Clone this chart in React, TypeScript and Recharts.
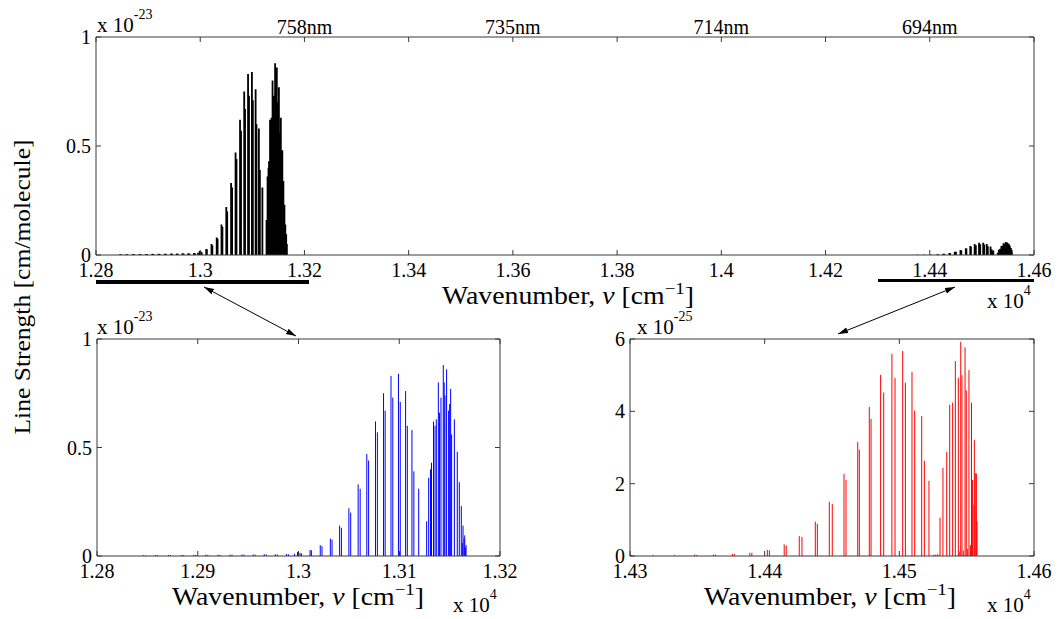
import { LineChart, Line, XAxis, YAxis } from 'recharts'

// O2 A-band, line positions (cm^-1) and strengths (x 1e-23 cm/molecule)
const A_NU = [
  12846, 12848, 12858, 12860, 12871, 12873, 12884, 12886, 12896, 12898,
  12908, 12910, 12920, 12922, 12932, 12934, 12944, 12946, 12955, 12957,
  12966, 12968, 12977, 12979, 12988, 12990, 12996, 12999, 13001.5, 13003,
  13011.5, 13012.8, 13021.6, 13023.3, 13031.6, 13033.3, 13040.8, 13042.6,
  13050, 13051.8, 13059.2, 13061.2, 13067.8, 13069.6, 13076.4, 13078.3,
  13084.4, 13086, 13091.8, 13093.6, 13099.2, 13100.3, 13101, 13106.3, 13108,
  13112.6, 13114.5, 13119.3,
  13127.2, 13129.2, 13131, 13132, 13134, 13135.5, 13136.8, 13138.8, 13140,
  13141.4, 13143.7, 13144.6, 13145.4, 13147, 13149, 13150, 13151, 13152,
  13154.7, 13157.6, 13159.6, 13161.6, 13162.6, 13163.3, 13164.3, 13165,
  13165.6, 13166.3,
]
const A_S = [
  0.004, 0.003, 0.004, 0.004, 0.005, 0.004, 0.005, 0.004, 0.005, 0.005,
  0.006, 0.005, 0.006, 0.005, 0.006, 0.006, 0.007, 0.006, 0.007, 0.006,
  0.008, 0.007, 0.008, 0.007, 0.009, 0.008, 0.01, 0.018, 0.015, 0.012,
  0.028, 0.026, 0.05, 0.045, 0.08, 0.075, 0.14, 0.13,
  0.22, 0.2, 0.33, 0.31, 0.47, 0.44, 0.62, 0.57,
  0.75, 0.67, 0.83, 0.73, 0.84, 0.02, 0.71, 0.76, 0.6,
  0.58, 0.39, 0.31,
  0.16, 0.36, 0.4, 0.43, 0.62, 0.6, 0.63, 0.8, 0.66,
  0.73, 0.88, 0.8, 0.74, 0.86, 0.67, 0.7, 0.77, 0.56,
  0.63, 0.48, 0.34, 0.23, 0.06, 0.14, 0.08, 0.095,
  0.04, 0.05,
]

// O2 B-band, line positions (cm^-1) and strengths (x 1e-25 cm/molecule)
const B_NU = [
  14301, 14317, 14333, 14348, 14349.5, 14362, 14363.5, 14376, 14377.5,
  14389, 14390.5, 14402, 14403.5, 14414.5, 14416,
  14425.7, 14427.7, 14437.6, 14439.1, 14448, 14450.2, 14458.9, 14460.4,
  14469.1, 14470.3, 14477.7, 14479, 14486.1, 14488.4, 14494.5, 14496.8,
  14502.5, 14504.5, 14509.4, 14511.4, 14516.6, 14518.6, 14522,
  14525.5, 14527, 14528.5,
  14530.2, 14532.4, 14535.2, 14537.4, 14539.6, 14541.6, 14543.8, 14544.5,
  14545.6, 14546.5, 14547.5, 14548.8, 14549.7, 14550.5, 14551.7, 14552.8,
  14553.6, 14554.4, 14555.4, 14555.7, 14556.7, 14557.2, 14557.7,
]
const B_S = [
  0.03, 0.03, 0.03, 0.04, 0.03, 0.04, 0.04, 0.06, 0.06,
  0.09, 0.09, 0.17, 0.16, 0.32, 0.29,
  0.55, 0.53, 0.95, 0.89, 1.5, 1.44, 2.27, 2.1,
  3.15, 2.94, 4.12, 3.79, 5.01, 4.52, 5.59, 4.92,
  5.67, 4.79, 5.09, 4.02, 3.87, 2.63, 2.08,
  0.03, 0.04, 0.05,
  1.06, 2.44, 2.88, 4.18, 4.24, 5.39, 4.93, 0.12,
  5.92, 5.0, 0.15, 5.77, 4.58, 0.2, 5.14, 0.3,
  4.24, 2.1, 1.42, 3.21, 2.29, 2.28, 0.95,
]

const TOP_X_TICKS = [12800, 13000, 13200, 13400, 13600, 13800, 14000, 14200, 14400, 14600]
const NM_TICKS = [13200, 13600, 14000, 14400]
const NM_LABELS = ['758nm', '735nm', '714nm', '694nm']
const LEFT_X_TICKS = [12800, 12900, 13000, 13100, 13200]
const RIGHT_X_TICKS = [14300, 14400, 14500, 14600]
const UNIT_Y_TICKS = [0, 0.5, 1]
const RIGHT_Y_TICKS = [0, 2, 4, 6]

const AXIS = '#3a3a3a'
const FONT = 'Liberation Serif, DejaVu Serif, serif'
const tickStyle = { fill: '#000', fontSize: 20, fontFamily: FONT }

type Pt = { x: number; y: number | null }

// each line becomes a vertical segment: (x,0) -> (x,s), then a gap
function sticks(nu: number[], s: number[], k = 1): Pt[] {
  const out: Pt[] = []
  nu.forEach((x, i) => {
    out.push({ x, y: 0 }, { x, y: s[i] * k }, { x, y: null })
  })
  return out
}

const fmtX = (v: number) => String(Number((v / 1e4).toFixed(4)))
const fmtY = (v: number) => String(v)
const blank = () => ''

function Panel({
  data,
  color,
  width,
  height,
  margin,
  xDomain,
  xTicks,
  yDomain,
  yTicks,
  strokeWidth,
  topFormatter,
}: {
  data: Pt[]
  color: string
  width: number
  height: number
  margin: { top: number; right: number; bottom: number; left: number }
  xDomain: [number, number]
  xTicks: number[]
  yDomain: [number, number]
  yTicks: number[]
  strokeWidth: number
  topFormatter?: (v: number) => string
}) {
  return (
    <LineChart width={width} height={height} data={data} margin={margin}>
      <XAxis
        xAxisId="b"
        dataKey="x"
        type="number"
        domain={xDomain}
        ticks={xTicks}
        interval={0}
        allowDataOverflow
        tickFormatter={fmtX}
        tickSize={-5}
        tickMargin={13}
        height={30}
        stroke={AXIS}
        tick={tickStyle}
      />
      <XAxis
        xAxisId="t"
        orientation="top"
        dataKey="x"
        type="number"
        domain={xDomain}
        ticks={xTicks}
        interval={0}
        allowDataOverflow
        tickFormatter={topFormatter ?? blank}
        tickSize={-5}
        tickMargin={8}
        height={20}
        stroke={AXIS}
        tick={tickStyle}
      />
      <YAxis
        yAxisId="l"
        type="number"
        domain={yDomain}
        ticks={yTicks}
        interval={0}
        allowDataOverflow
        tickFormatter={fmtY}
        tickSize={-5}
        tickMargin={10}
        width={60}
        stroke={AXIS}
        tick={tickStyle}
      />
      <YAxis
        yAxisId="r"
        orientation="right"
        type="number"
        domain={yDomain}
        ticks={yTicks}
        interval={0}
        allowDataOverflow
        tickFormatter={blank}
        tickSize={-5}
        width={1}
        stroke={AXIS}
        tick={tickStyle}
      />
      <Line
        xAxisId="b"
        yAxisId="l"
        dataKey="y"
        stroke={color}
        strokeWidth={strokeWidth}
        dot={false}
        connectNulls={false}
        isAnimationActive={false}
      />
    </LineChart>
  )
}

function Times10({ x, y, exp }: { x: number; y: number; exp: string }) {
  return (
    <text x={x} y={y} fontSize={21} fill="#000" fontFamily={FONT}>
      x 10
      <tspan dy={-13} fontSize={14}>
        {exp}
      </tspan>
    </text>
  )
}

function WaveLabel({ cx, y }: { cx: number; y: number }) {
  return (
    <text
      x={cx}
      y={y}
      textAnchor="middle"
      fontSize={25}
      fill="#000"
      fontFamily={FONT}
      textLength={252}
      lengthAdjust="spacingAndGlyphs"
    >
      Wavenumber, <tspan fontStyle="italic">ν</tspan> [cm
      <tspan dy={-10} fontSize={17}>
        −1
      </tspan>
      <tspan dy={10}>]</tspan>
    </text>
  )
}

const topData = [...sticks(A_NU, A_S), ...sticks(B_NU, B_S, 0.01)]
const leftData = sticks(A_NU, A_S)
const rightData = sticks(B_NU, B_S)

const nmFormatter = (v: number) => {
  const i = NM_TICKS.indexOf(v)
  return i >= 0 ? NM_LABELS[i] : ''
}

export default function App() {
  return (
    <div
      style={{
        position: 'absolute',
        left: 0,
        top: 0,
        width: 1058,
        height: 619,
        background: '#fff',
        overflow: 'hidden',
        fontFamily: FONT,
      }}
    >
      <div style={{ position: 'absolute', left: 0, top: 0 }}>
        <Panel
          data={topData}
          color="#000"
          width={1058}
          height={300}
          margin={{ top: 17, right: 23, bottom: 15, left: 36 }}
          xDomain={[12800, 14600]}
          xTicks={TOP_X_TICKS}
          yDomain={[0, 1]}
          yTicks={UNIT_Y_TICKS}
          strokeWidth={1.8}
          topFormatter={nmFormatter}
        />
      </div>
      <div style={{ position: 'absolute', left: 0, top: 300 }}>
        <Panel
          data={leftData}
          color="#0000ff"
          width={530}
          height={319}
          margin={{ top: 19, right: 29, bottom: 33, left: 37 }}
          xDomain={[12800, 13200]}
          xTicks={LEFT_X_TICKS}
          yDomain={[0, 1]}
          yTicks={UNIT_Y_TICKS}
          strokeWidth={1}
        />
      </div>
      <div style={{ position: 'absolute', left: 530, top: 300 }}>
        <Panel
          data={rightData}
          color="#ff0000"
          width={528}
          height={319}
          margin={{ top: 19, right: 23, bottom: 33, left: 40 }}
          xDomain={[14300, 14600]}
          xTicks={RIGHT_X_TICKS}
          yDomain={[0, 6]}
          yTicks={RIGHT_Y_TICKS}
          strokeWidth={1}
        />
      </div>
      <svg
        width={1058}
        height={619}
        style={{ position: 'absolute', left: 0, top: 0, pointerEvents: 'none' }}
      >
        <defs>
          <marker
            id="ah"
            viewBox="0 0 10 10"
            refX="10"
            refY="5"
            markerWidth="10"
            markerHeight="10"
            orient="auto-start-reverse"
          >
            <path d="M0,2 L10,5 L0,8 z" fill="#000" />
          </marker>
        </defs>
        <line x1={96} y1={282} x2={309} y2={282} stroke="#000" strokeWidth={4} />
        <line x1={878} y1={280.5} x2={1034} y2={280.5} stroke="#000" strokeWidth={3} />
        <line
          x1={204}
          y1={287}
          x2={296}
          y2={336}
          stroke="#000"
          strokeWidth={1}
          markerStart="url(#ah)"
          markerEnd="url(#ah)"
        />
        <line
          x1={955}
          y1={287}
          x2={838}
          y2={334}
          stroke="#000"
          strokeWidth={1}
          markerStart="url(#ah)"
          markerEnd="url(#ah)"
        />
        <text
          transform="translate(30,287) rotate(-90)"
          textAnchor="middle"
          fontSize={24}
          fill="#000"
          fontFamily={FONT}
          textLength={295}
          lengthAdjust="spacingAndGlyphs"
        >
          Line Strength [cm/molecule]
        </text>
        <Times10 x={97} y={32} exp="-23" />
        <Times10 x={97} y={334} exp="-23" />
        <Times10 x={637} y={334} exp="-25" />
        <Times10 x={987} y={308} exp="4" />
        <Times10 x={453} y={612} exp="4" />
        <Times10 x={987} y={612} exp="4" />
        <WaveLabel cx={568} y={304} />
        <WaveLabel cx={298} y={605} />
        <WaveLabel cx={830} y={605} />
      </svg>
    </div>
  )
}
